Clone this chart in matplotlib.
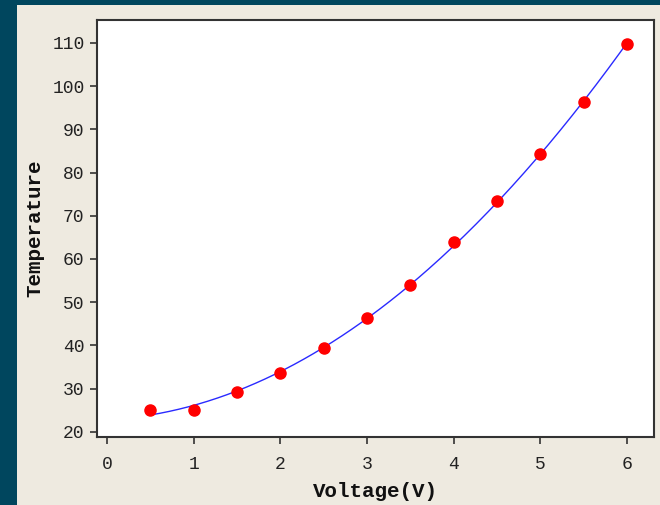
import numpy as np
import matplotlib
matplotlib.use('Agg')
import matplotlib.pyplot as plt
from matplotlib.patches import Rectangle

voltage = [0.5, 1.0, 1.5, 2.0, 2.5, 3.0, 3.5, 4.0, 4.5, 5.0, 5.5, 6.0]
temperature = [25.1, 25.0, 29.3, 33.5, 39.3, 46.3, 54.0, 64.0, 73.3, 84.4, 96.3, 109.8]

x_ticks = [0, 1, 2, 3, 4, 5, 6]
y_ticks = [20, 30, 40, 50, 60, 70, 80, 90, 100, 110]

W, H = 660, 505
fig = plt.figure(figsize=(W / 100, H / 100), dpi=100)
fig.patch.set_facecolor('#00465e')
fig.patches.append(Rectangle((17 / W, 0), 1 - 17 / W, 1 - 5 / H,
                             transform=fig.transFigure, facecolor='#eeeae0',
                             edgecolor='none', zorder=-10))

ax = fig.add_axes([97 / W, 1 - 437 / H, (654 - 97) / W, (437 - 20) / H])
ax.set_facecolor('white')

# quadratic fit through the measured points
coef = np.polyfit(voltage, temperature, 2)
xs = np.linspace(min(voltage), max(voltage), 200)
ax.plot(xs, np.polyval(coef, xs), color='#2a2aff', linewidth=1.0, zorder=2)
ax.plot(voltage, temperature, 'o', color='red', markersize=8, zorder=3)

ax.set_xlim(-0.115, 6.31)
ax.set_ylim(18.8, 115.3)
ax.set_xticks(x_ticks)
ax.set_yticks(y_ticks)

tick_font = dict(family='Liberation Mono', size=13)
ax.set_xticklabels([str(t) for t in x_ticks], **tick_font)
ax.set_yticklabels([str(t) for t in y_ticks], **tick_font)
ax.tick_params(direction='out', length=5, width=1.2, color='#333333',
               labelcolor='#222222')
ax.tick_params(axis='x', pad=9)
ax.tick_params(axis='y', pad=4)

for sp in ax.spines.values():
    sp.set_color('#333333')
    sp.set_linewidth(1.5)

label_font = dict(family='Liberation Mono', size=15, weight='bold', color='#111111')
ax.set_xlabel('Voltage(V)', labelpad=6, **label_font)
ax.set_ylabel('Temperature', labelpad=6, **label_font)

fig.savefig('out.png', dpi=100, facecolor=fig.get_facecolor())
